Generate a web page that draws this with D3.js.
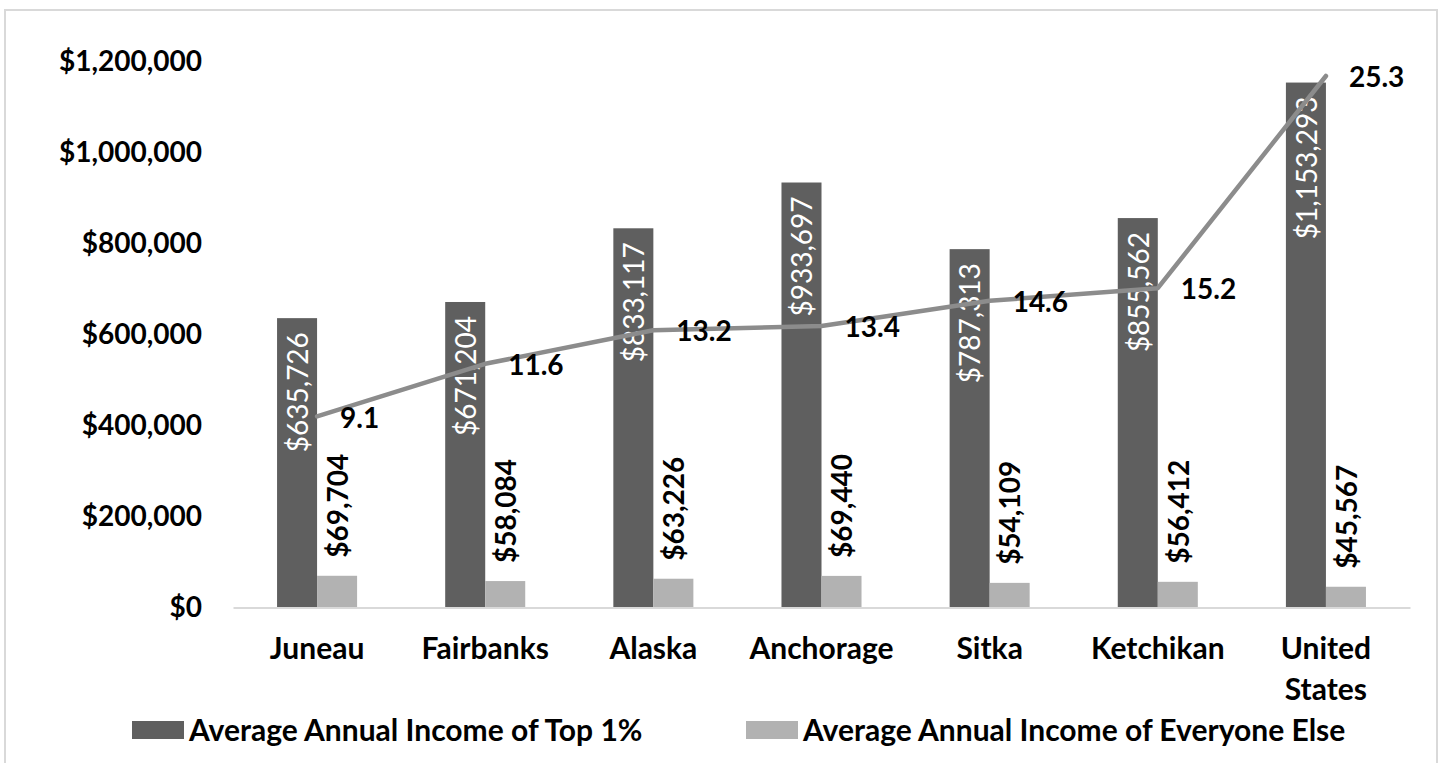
<!DOCTYPE html>
<html>
<head>
<meta charset="utf-8">
<script src="https://cdn.jsdelivr.net/npm/d3@7"></script>
<style>
  html, body { margin: 0; padding: 0; background: #fff; }
  svg { display: block; font-family: Lato, "Open Sans", sans-serif; }
</style>
</head>
<body>
<svg id="chart" width="1442" height="763"></svg>
<script>
// ---- data ----
const categories = ["Juneau", "Fairbanks", "Alaska", "Anchorage", "Sitka", "Ketchikan", "United States"];
const top1Income = [635726, 671204, 833117, 933697, 787313, 855562, 1153293];
const restIncome = [69704, 58084, 63226, 69440, 54109, 56412, 45567];
const ratio = [9.1, 11.6, 13.2, 13.4, 14.6, 15.2, 25.3];
const yTicks = [0, 200000, 400000, 600000, 800000, 1000000, 1200000];
const seriesNames = ["Average Annual Income of Top 1%", "Average Annual Income of Everyone Else"];

// ---- layout ----
const plot = { left: 233, right: 1410, top: 61.3, bottom: 607.5 };
const colors = { top: "#5f5f5f", rest: "#b2b2b2", line: "#8c8c8c", axis: "#d9d9d9" };
const FS = 28;      // numeric labels
const FS_TXT = 30;  // word labels

const svg = d3.select("#chart");

// frame
svg.append("rect").attr("x", 5).attr("y", 10).attr("width", 1432).attr("height", 770)
  .attr("fill", "none").attr("stroke", "#d9d9d9").attr("stroke-width", 2);

const x = d3.scaleBand().domain(categories).range([plot.left, plot.right])
  .paddingInner(0.524).paddingOuter(0.262);
const x1 = d3.scaleBand().domain(["top", "rest"]).range([0, x.bandwidth()]);
const y = d3.scaleLinear().domain([0, 1200000]).range([plot.bottom, plot.top]);
const y2 = d3.scaleLinear().domain([0, 26]).range([plot.bottom, plot.top]);

const rows = categories.map((c, i) => ({ c, top: top1Income[i], rest: restIncome[i], r: ratio[i] }));

// y axis
const yAxis = svg.append("g").attr("transform", `translate(${plot.left},0)`)
  .call(d3.axisLeft(y).tickValues(yTicks).tickSize(0).tickPadding(31)
    .tickFormat(d => "$" + d3.format(",")(d)));
yAxis.select(".domain").remove();
yAxis.selectAll("text").attr("font-family", "Lato").attr("font-weight", "bold")
  .attr("font-size", FS).attr("fill", "#000");

// bars
const groups = svg.append("g").selectAll("g").data(rows).join("g")
  .attr("transform", d => `translate(${x(d.c)},0)`);

groups.append("rect")
  .attr("x", x1("top")).attr("width", x1.bandwidth())
  .attr("y", d => y(d.top)).attr("height", d => y(0) - y(d.top))
  .attr("fill", colors.top);
groups.append("rect")
  .attr("x", x1("rest")).attr("width", x1.bandwidth())
  .attr("y", d => y(d.rest)).attr("height", d => y(0) - y(d.rest))
  .attr("fill", colors.rest);

// x axis
const xAxis = svg.append("g").attr("transform", `translate(0,${plot.bottom})`)
  .call(d3.axisBottom(x).tickSize(0).tickPadding(0));
xAxis.select(".domain").attr("stroke", colors.axis).attr("stroke-width", 2);
xAxis.selectAll(".tick text").each(function(d) {
  const t = d3.select(this);
  t.text(null).attr("y", 0).attr("dy", null)
    .attr("font-family", "Lato").attr("font-weight", "bold").attr("font-size", FS_TXT).attr("fill", "#000");
  const words = d.split(" ");
  const lines = words.length > 1 && d.length > 10 ? words : [d];
  lines.forEach((w, i) => {
    t.append("tspan").attr("x", 0).attr("y", 41 + i * 41).attr("dy", "0.35em").text(w);
  });
});

// bar labels
groups.append("text")
  .attr("transform", d => `translate(${x1("top") + x1.bandwidth() / 2 + 1},${y(d.top) + 14}) rotate(-90)`)
  .attr("text-anchor", "end").attr("dy", "0.35em")
  .attr("font-size", FS).attr("fill", "#fff")
  .text(d => "$" + d3.format(",")(d.top));
groups.append("text")
  .attr("transform", d => `translate(${x1("rest") + x1.bandwidth() / 2 + 1},${y(d.rest) - 18}) rotate(-90)`)
  .attr("text-anchor", "start").attr("dy", "0.35em")
  .attr("font-size", FS).attr("font-weight", "bold").attr("fill", "#000")
  .text(d => "$" + d3.format(",")(d.rest));

// line
const cx = d => x(d.c) + x.bandwidth() / 2;
svg.append("path").datum(rows)
  .attr("fill", "none").attr("stroke", colors.line).attr("stroke-width", 4.5)
  .attr("stroke-linejoin", "round").attr("stroke-linecap", "round")
  .attr("d", d3.line().x(cx).y(d => y2(d.r)));
svg.append("g").selectAll("text").data(rows).join("text")
  .attr("x", d => cx(d) + 23).attr("y", d => y2(d.r)).attr("dy", "0.4em")
  .attr("font-size", FS).attr("font-weight", "bold").attr("fill", "#000")
  .text(d => d3.format(".1f")(d.r));

// legend
const legendItems = [
  { name: seriesNames[0], color: colors.top, sx: 132 },
  { name: seriesNames[1], color: colors.rest, sx: 746 }
];
const lg = svg.append("g").selectAll("g").data(legendItems).join("g");
lg.append("rect").attr("x", d => d.sx).attr("y", 721).attr("width", 52).attr("height", 18)
  .attr("fill", d => d.color);
lg.append("text").attr("x", d => d.sx + 57).attr("y", 730).attr("dy", "0.35em")
  .attr("font-size", FS_TXT).attr("font-weight", "bold").attr("fill", "#000")
  .text(d => d.name);
</script>
</body>
</html>
